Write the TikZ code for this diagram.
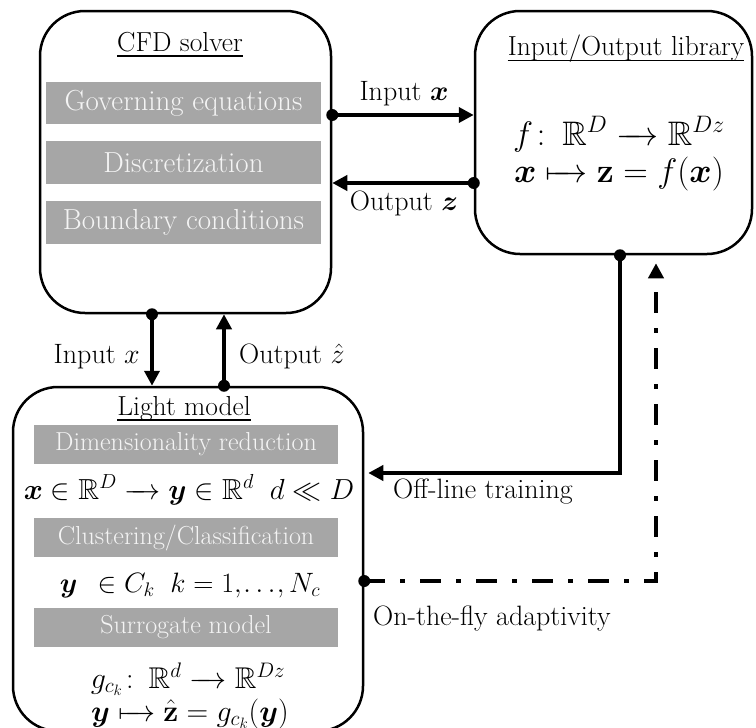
\documentclass[tikz,border=0pt]{standalone}
\usepackage{fix-cm}
\usepackage{amsmath,amssymb,bm}
\usetikzlibrary{arrows.meta,calc}
\definecolor{gbox}{HTML}{A6A6A6}
\definecolor{gtext}{HTML}{F4F4F4}
\newcommand\fsz{\fontsize{28}{32}\selectfont}
\newcommand\fszt{\fontsize{27.5}{32}\selectfont}
\newcommand\fszg{\fontsize{29}{33}\selectfont}
\newcommand\fszl{\fontsize{26}{30}\selectfont}
\newcommand\larr{\mathrel{\relbar\mkern-10mu\rightarrow}}
\newcommand\lmapto{\mathrel{\mapstochar\relbar\mkern-10mu\rightarrow}}
\begin{document}
\begin{tikzpicture}[x=1pt,y=-1pt,
  box/.style={draw, line width=2.5pt, rounded corners=45pt, inner sep=0pt},
  graybox/.style={fill=gbox, text=gtext, inner sep=0pt, font=\fszg},
  lgraybox/.style={fill=gbox, text=gtext, inner sep=0pt, font=\fszl},
  lbl/.style={inner sep=0pt, font=\fsz, anchor=base},
  ttl/.style={inner sep=0pt, font=\fszt, anchor=base},
  uline/.style={line width=1.8pt},
  mth/.style={inner sep=0pt, anchor=base, font=\fontsize{#1}{#1}\selectfont},
  conn/.style={line width=4.5pt, -{Triangle[length=15pt,width=15pt]}},
  dashdotconn/.style={line width=4.5pt, dash pattern=on 21pt off 15pt on 5pt off 15pt, -{Triangle[length=15pt,width=15pt]}},
  dotend/.style={circle, fill, inner sep=0pt, minimum size=12pt}
]
\useasboundingbox (0,0) rectangle (756,728);

% main boxes
\node[box, minimum width=291pt, minimum height=302pt] (cfd) at (185.5,162) {};
\node[box, minimum width=277pt, minimum height=243pt] (io) at (613.5,132.5) {};
\node[box, minimum width=350pt, minimum height=344pt] (light) at (188,559) {};

% CFD contents
\node[ttl] (cfdt) at (180,52) {CFD solver};
\draw[uline] ([yshift=-4pt]cfdt.base west) -- ([yshift=-4pt]cfdt.base east);
\node[graybox, minimum width=275pt, minimum height=42pt] (g1) at (183.5,103) {Governing equations};
\node[graybox, minimum width=275pt, minimum height=43pt] (g2) at (183.5,162.5) {Discretization};
\node[graybox, minimum width=275pt, minimum height=43pt] (g3) at (183.5,222.5) {Boundary conditions};

% IO contents
\node[ttl] (iot) at (626,56) {Input/Output library};
\draw[uline] ([yshift=-4.5pt]iot.base west) -- ([yshift=-4.5pt]iot.base east);
\node[mth=34] (iof1) at (619,145) {$f\colon\,\mathbb{R}^{D}\larr\mathbb{R}^{Dz}$};
\node[mth=34] (iof2) at (619,182) {$\bm{x}\lmapto\mathbf{z}=f(\bm{x})$};

% Light model contents
\node[ttl] (lt) at (184,415) {Light model};
\draw[uline] ([yshift=-5pt]lt.base west) -- ([yshift=-5pt]lt.base east);
\node[lgraybox, minimum width=304pt, minimum height=39pt] (l1) at (186,444.5) {Dimensionality reduction};
\node[mth=29] (lf1) at (189,499) {$\bm{x}\in\mathbb{R}^{D}\larr\bm{y}\in\mathbb{R}^{d}\;\;d\ll D$};
\node[lgraybox, minimum width=304pt, minimum height=39pt] (l2) at (186,537.5) {Clustering/Classification};
\node[mth=28] (lf2) at (190,592) {$\bm{y}\;\,\in C_k\;\;k=1,\mkern-2mu\ldots\mkern-2mu,N_c$};
\node[lgraybox, minimum width=304pt, minimum height=39pt] (l3) at (186,627.5) {Surrogate model};
\node[mth=30] (lf3) at (188,688) {$g_{c_k}\colon\,\mathbb{R}^{d}\larr\mathbb{R}^{Dz}$};
\node[mth=30] (lf4) at (190,721) {$\bm{y}\lmapto\hat{\mathbf{z}}=g_{c_k}(\bm{y})$};

% connector end points
\coordinate (a1) at (cfd.east |- 0,115);
\coordinate (b1) at (io.west |- 0,115);
\coordinate (a2) at (io.west |- 0,183);
\coordinate (b2) at (cfd.east |- 0,183);
\coordinate (a3) at (cfd.south -| 152,0);
\coordinate (b3) at (light.north -| 152,0);
\coordinate (a4) at (light.north -| 224,0);
\coordinate (b4) at (cfd.south -| 224,0);
\coordinate (a5) at (io.south -| 620,0);
\coordinate (c5) at (620,473);
\coordinate (b5) at (light.east |- 0,473);
\coordinate (a6) at (light.east |- 0,581);
\coordinate (c6) at (656,581);
\coordinate (b6) at (io.south -| 656,0);

% connectors
\draw[conn] (a1) -- (b1);
\draw[conn] (a2) -- (b2);
\draw[conn] (a3) -- (b3);
\draw[conn] (a4) -- (b4);
\draw[conn, shorten >=4pt] (a5) -- (c5) -- (b5);
\draw[dashdotconn, shorten >=8pt] (a6) -- (c6) -- (b6);

% dots
\node[dotend] (d1) at (a1) {};
\node[dotend] (d2) at (a2) {};
\node[dotend] (d3) at (a3) {};
\node[dotend] (d4) at (a4) {};
\node[dotend] (d5) at (a5) {};
\node[dotend] (d6) at (a6) {};

% labels
\node[lbl] (lin) at (404,100) {Input $\bm{x}$};
\node[lbl] (lout) at (404,210) {Output $\bm{z}$};
\node[lbl, anchor=base east] (lin2) at (140,363) {Input $x$};
\node[lbl, anchor=base west] (lout2) at (239,363) {Output $\hat{z}$};
\node[lbl, anchor=base west] (loff) at (393,498) {Off-line training};
\node[lbl, anchor=base west] (lon) at (373,625) {On-the-fly adaptivity};
\end{tikzpicture}
\end{document}
